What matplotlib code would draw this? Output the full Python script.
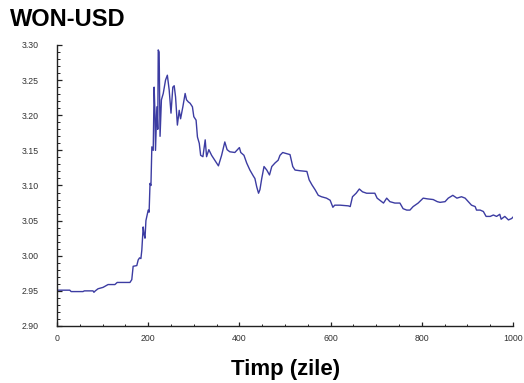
import matplotlib
matplotlib.use("Agg")
import matplotlib.pyplot as plt
from matplotlib.ticker import MultipleLocator, FormatStrFormatter

# Daily WON-USD rate (day index, rate)
days = [0, 28, 31, 57, 60, 79, 81, 84, 90, 101, 112, 127, 132, 160, 164, 167,
        175, 178, 181, 184, 186, 189, 191, 193, 195, 197, 200, 202, 204, 206,
        208, 211, 213, 215, 216, 219, 221, 222, 224, 226, 229, 233, 238, 242,
        246, 250, 254, 257, 260, 264, 268, 271, 276, 281, 284, 288, 292, 297,
        300, 305, 308, 312, 315, 320, 325, 328, 333, 339, 346, 354, 361, 368,
        373, 379, 390, 400, 403, 410, 416, 423, 431, 434, 438, 442, 445, 449,
        454, 460, 466, 471, 478, 485, 489, 495, 500, 511, 517, 522, 533, 548,
        553, 559, 566, 573, 580, 591, 599, 605, 609, 621, 639, 643, 648, 656,
        663, 670, 679, 697, 702, 708, 716, 723, 730, 741, 752, 759, 767, 774,
        781, 792, 803, 812, 825, 834, 840, 851, 858, 868, 877, 887, 895, 902,
        909, 917, 920, 928, 935, 941, 950, 957, 964, 971, 974, 982, 990, 997,
        1000]
rates = [2.951, 2.951, 2.949, 2.949, 2.950, 2.950, 2.948, 2.950, 2.953, 2.955,
         2.959, 2.959, 2.962, 2.962, 2.966, 2.985, 2.986, 2.994, 2.997, 2.996,
         3.008, 3.041, 3.030, 3.025, 3.050, 3.056, 3.065, 3.062, 3.103, 3.100,
         3.155, 3.150, 3.240, 3.200, 3.150, 3.212, 3.180, 3.293, 3.290, 3.170,
         3.222, 3.231, 3.250, 3.257, 3.236, 3.203, 3.240, 3.242, 3.226, 3.186,
         3.207, 3.195, 3.212, 3.231, 3.222, 3.219, 3.217, 3.212, 3.198, 3.193,
         3.169, 3.160, 3.143, 3.141, 3.165, 3.141, 3.151, 3.143, 3.136, 3.128,
         3.143, 3.162, 3.151, 3.148, 3.147, 3.154, 3.147, 3.143, 3.132, 3.122,
         3.113, 3.110, 3.098, 3.089, 3.094, 3.110, 3.127, 3.122, 3.115, 3.127,
         3.132, 3.136, 3.143, 3.147, 3.146, 3.144, 3.127, 3.122, 3.121, 3.120,
         3.108, 3.101, 3.094, 3.086, 3.084, 3.082, 3.079, 3.069, 3.072, 3.072,
         3.071, 3.070, 3.084, 3.089, 3.095, 3.091, 3.089, 3.089, 3.082, 3.079,
         3.075, 3.082, 3.077, 3.075, 3.075, 3.067, 3.065, 3.065, 3.070, 3.075,
         3.082, 3.081, 3.080, 3.077, 3.076, 3.077, 3.082, 3.086, 3.082, 3.084,
         3.082, 3.077, 3.072, 3.070, 3.065, 3.065, 3.063, 3.056, 3.056, 3.058,
         3.056, 3.059, 3.052, 3.056, 3.051, 3.053, 3.055]

title = "WON-USD"
xlabel = "Timp (zile)"

W, H = 524, 383
fig = plt.figure(figsize=(W / 100, H / 100), dpi=100)
ax = fig.add_axes([57 / W, (H - 326) / H, 456 / W, 281 / H])

ax.plot(days, rates, color="#3c3ca2", lw=1.0)

ax.set_xlim(0, 1000)
ax.set_ylim(2.90, 3.30)
ax.xaxis.set_major_locator(MultipleLocator(200))
ax.xaxis.set_minor_locator(MultipleLocator(50))
ax.yaxis.set_major_locator(MultipleLocator(0.05))
ax.yaxis.set_minor_locator(MultipleLocator(0.01))
ax.yaxis.set_major_formatter(FormatStrFormatter("%.2f"))

for side in ("top", "right"):
    ax.spines[side].set_visible(False)
for side in ("left", "bottom"):
    ax.spines[side].set_linewidth(1.0)
    ax.spines[side].set_color("#222222")

ax.tick_params(which="both", direction="in", colors="#222222",
               labelcolor="#333333", labelsize=6.3,
               labelfontfamily="Liberation Sans")
ax.tick_params(axis="y", which="major", length=3.6, width=0.9, pad=13)
ax.tick_params(axis="y", which="minor", length=2.0, width=0.7)
ax.tick_params(axis="x", which="major", length=3.2, width=0.9, pad=6)
ax.tick_params(axis="x", which="minor", length=1.8, width=0.7)

fig.text(10 / W, 1 - 20 / H, title, fontsize=17, fontweight="bold",
         family="Liberation Sans", ha="left", va="center")
fig.text(286 / W, 1 - 370 / H, xlabel, fontsize=16, fontweight="bold",
         family="Liberation Sans", ha="center", va="center")

fig.savefig("out.png", dpi=100, facecolor="white")
